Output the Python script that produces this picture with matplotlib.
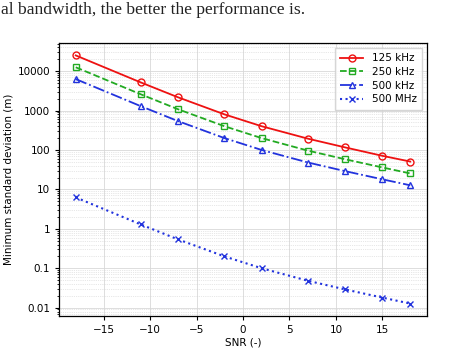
import matplotlib
matplotlib.use("Agg")
import matplotlib.pyplot as plt
from matplotlib.ticker import FixedLocator, FixedFormatter, LogLocator, NullFormatter

snr = [-18, -11, -7, -2, 2, 7, 11, 15, 18]
std_125k = [25000, 5160, 2170, 800, 400, 193, 116, 71, 50.8]
std_250k = [12500, 2580, 1080, 400, 200, 96, 58, 36, 25.4]
std_500k = [6270, 1290, 540, 200, 100, 48, 29, 18, 12.7]
std_500M = [6.27, 1.29, 0.54, 0.20, 0.10, 0.048, 0.029, 0.018, 0.0127]
labels = ["125 kHz", "250 kHz", "500 kHz", "500 MHz"]
ytick_vals = [0.01, 0.1, 1, 10, 100, 1000, 10000]
ytick_labels = ["0.01", "0.1", "1", "10", "100", "1000", "10000"]

fig = plt.figure(figsize=(4.74, 3.55), dpi=100)
ax = fig.add_axes([59/474, 1 - 316/355, (427-59)/474, (316-43)/355])

ax.plot(snr, std_125k, '-', color='#ee1111', marker='o', mfc='none', ms=5, lw=1.3, label=labels[0])
ax.plot(snr, std_250k, '--', color='#22aa22', marker='s', mfc='none', ms=5, lw=1.3, label=labels[1])
ax.plot(snr, std_500k, '-.', color='#2233dd', marker='^', mfc='none', ms=5, lw=1.3, label=labels[2])
ax.plot(snr, std_500M, ':', color='#2233dd', marker='x', ms=5, lw=1.5, label=labels[3])

ax.set_yscale('log')
ax.yaxis.set_major_locator(FixedLocator(ytick_vals))
ax.yaxis.set_major_formatter(FixedFormatter(ytick_labels))
ax.yaxis.set_minor_locator(LogLocator(base=10, subs=range(2, 10), numticks=20))
ax.yaxis.set_minor_formatter(NullFormatter())
ax.set_xticks([-15, -10, -5, 0, 5, 10, 15])

ax.grid(which='major', color='#d8d8d8', lw=0.6, ls='-')
ax.grid(which='minor', axis='y', color='#d0d0d0', lw=0.5, ls=':')
ax.set_axisbelow(True)

ax.tick_params(labelsize=7.5, length=3, width=0.8)
ax.tick_params(which='minor', length=1.8, width=0.6)
ax.set_xlabel("SNR (-)", fontsize=7.5, labelpad=2)
ax.set_ylabel("Minimum standard deviation (m)", fontsize=7.5, labelpad=3)
for s in ax.spines.values():
    s.set_linewidth(0.9)

leg = ax.legend(loc='upper right', fontsize=7.5, frameon=True, fancybox=False,
                edgecolor='#cccccc', handlelength=2.2, borderpad=0.5, labelspacing=0.35)

fig.text(0.002, 0.995, "al bandwidth, the better the performance is.", family="Liberation Serif",
         fontsize=12.6, va='top', ha='left', color='#222222')

fig.savefig("out.png", dpi=100)
